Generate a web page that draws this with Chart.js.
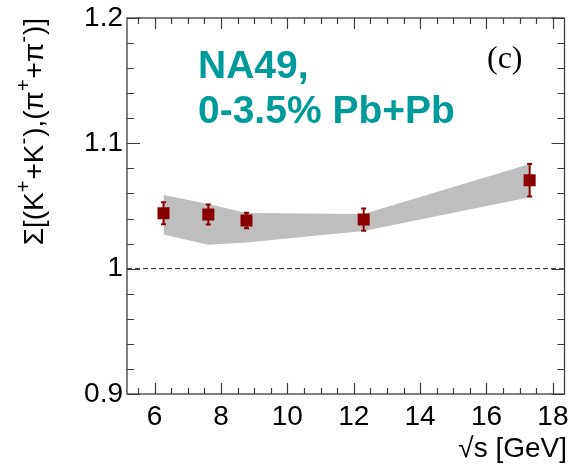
<!DOCTYPE html>
<html>
<head>
<meta charset="utf-8">
<script src="https://cdn.jsdelivr.net/npm/chart.js@4/dist/chart.umd.min.js"></script>
<style>
  html, body { margin: 0; padding: 0; background: #ffffff; }
  #wrap { width: 573px; height: 471px; }
</style>
</head>
<body>
<div id="wrap"><canvas id="c" width="573" height="471"></canvas></div>
<script>
// Collision energies (GeV) of the NA49 energy scan
const energies = [6.27, 7.62, 8.77, 12.3, 17.3];
// Strongly intensive measure Sigma for (K+ + K-) vs (pi+ + pi-)
const sigmaValues = [1.0442, 1.0432, 1.0384, 1.0392, 1.0705];
const sigmaErrors = [0.0088, 0.0080, 0.0062, 0.0089, 0.0130];
// Systematic uncertainty band
const bandUpper = [1.0587, 1.0515, 1.0445, 1.0437, 1.0835];
const bandLower = [1.0272, 1.0190, 1.0208, 1.0301, 1.0570];
// Axis ticks
const xMajorTicks = [6, 8, 10, 12, 14, 16, 18];
const yMajorTicks = [0.9, 1.0, 1.1, 1.2];
const xMinorStep = 0.5;
const yMinorStep = 0.02;

const markerColor = '#8a0000';
const frameColor = '#3c3c3c';
const teal = '#009a9a';

const pts = (ys) => energies.map((x, i) => ({ x: x, y: ys[i] }));

// frame, inward ticks, reference line, error bars and text
const decor = {
  id: 'decor',
  beforeDatasetsDraw(chart) {
    const { ctx, chartArea: a, scales: { y } } = chart;
    const yy = y.getPixelForValue(1.0);
    ctx.save();
    ctx.strokeStyle = '#222';
    ctx.lineWidth = 1;
    ctx.setLineDash([5, 3]);
    ctx.beginPath();
    ctx.moveTo(a.left, yy);
    ctx.lineTo(a.right, yy);
    ctx.stroke();
    ctx.restore();
  },
  beforeDatasetDraw(chart, args) {
    if (args.index !== 2) return;
    const { ctx, scales: { x, y } } = chart;
    ctx.save();
    ctx.strokeStyle = markerColor;
    ctx.lineWidth = 2;
    energies.forEach((e, i) => {
      const px = x.getPixelForValue(e);
      const top = y.getPixelForValue(sigmaValues[i] + sigmaErrors[i]);
      const bot = y.getPixelForValue(sigmaValues[i] - sigmaErrors[i]);
      ctx.beginPath();
      ctx.moveTo(px, top); ctx.lineTo(px, bot);
      ctx.moveTo(px - 2.5, top); ctx.lineTo(px + 2.5, top);
      ctx.moveTo(px - 2.5, bot); ctx.lineTo(px + 2.5, bot);
      ctx.stroke();
    });
    ctx.restore();
  },
  afterDraw(chart) {
    const { ctx, chartArea: a, scales: { x, y } } = chart;
    ctx.save();
    ctx.strokeStyle = frameColor;
    ctx.lineWidth = 1.3;
    ctx.strokeRect(a.left, a.top, a.right - a.left, a.bottom - a.top);
    ctx.lineWidth = 1.2;
    ctx.beginPath();
    // x ticks, bottom and top
    for (let v = Math.ceil(x.min / xMinorStep) * xMinorStep; v <= x.max + 1e-9; v += xMinorStep) {
      const major = xMajorTicks.some(t => Math.abs(t - v) < 1e-6);
      const len = major ? 11 : 6;
      const px = Math.round(x.getPixelForValue(v)) + 0.5;
      ctx.moveTo(px, a.bottom); ctx.lineTo(px, a.bottom - len);
      ctx.moveTo(px, a.top); ctx.lineTo(px, a.top + len);
    }
    // y ticks, left and right
    for (let k = Math.round(y.min / yMinorStep); k * yMinorStep <= y.max + 1e-9; k++) {
      const v = k * yMinorStep;
      const major = yMajorTicks.some(t => Math.abs(t - v) < 1e-6);
      const len = major ? 13 : 7;
      const py = Math.round(y.getPixelForValue(v)) + 0.5;
      ctx.moveTo(a.left, py); ctx.lineTo(a.left + len, py);
      ctx.moveTo(a.right, py); ctx.lineTo(a.right - len, py);
    }
    ctx.stroke();

    // headline text
    ctx.fillStyle = teal;
    ctx.font = 'bold 39px "Liberation Sans", Arial, sans-serif';
    ctx.textBaseline = 'alphabetic';
    ctx.textAlign = 'left';
    ctx.fillText('NA49,', 198, 78);
    ctx.fillText('0-3.5% Pb+Pb', 198, 123);

    ctx.fillStyle = '#000';
    ctx.font = '32px "Liberation Serif", "Times New Roman", serif';
    ctx.fillText('(c)', 487, 68);

    // x-axis title
    ctx.font = '28px "Liberation Sans", Arial, sans-serif';
    ctx.textAlign = 'right';
    ctx.fillText('\u221As [GeV]', 567, 457);

    // y-axis title with superscripts, rotated
    const segs = [
      { t: '\u03A3[(K' }, { t: '+', s: 1 }, { t: '+K' }, { t: '-', s: 1 },
      { t: '),(\u03C0' }, { t: '+', s: 1 }, { t: '+\u03C0' }, { t: '-', s: 1 }, { t: ')]' }
    ];
    const mainFont = '28px "Liberation Sans", Arial, sans-serif';
    const supFont = '20px "Liberation Sans", Arial, sans-serif';
    let total = 0;
    segs.forEach(s => { ctx.font = s.s ? supFont : mainFont; s.w = ctx.measureText(s.t).width + (s.s ? 1 : 0); total += s.w; });
    ctx.translate(43, 18 + total);
    ctx.rotate(-Math.PI / 2);
    ctx.textAlign = 'left';
    let cx = 0;
    segs.forEach(s => {
      ctx.font = s.s ? supFont : mainFont;
      ctx.fillText(s.t, cx, s.s ? -13 : 0);
      cx += s.w;
    });
    ctx.restore();
  }
};

new Chart(document.getElementById('c'), {
  type: 'scatter',
  data: {
    datasets: [
      {
        data: pts(bandLower), showLine: true, borderWidth: 0, pointRadius: 0, order: 3,
        borderColor: 'rgba(0,0,0,0)', fill: false, tension: 0
      },
      {
        data: pts(bandUpper), showLine: true, borderWidth: 0, pointRadius: 0, order: 2,
        borderColor: 'rgba(0,0,0,0)', backgroundColor: '#bebebe', fill: '-1', tension: 0
      },
      {
        data: pts(sigmaValues), pointStyle: 'rect', pointRadius: 8.5, order: 1,
        backgroundColor: markerColor, borderColor: markerColor, borderWidth: 0
      }
    ]
  },
  options: {
    responsive: false,
    animation: false,
    devicePixelRatio: 1,
    layout: { padding: { top: 18, right: 7, bottom: 0, left: 0 } },
    plugins: { legend: { display: false }, tooltip: { enabled: false } },
    scales: {
      x: {
        type: 'linear', min: 5.17, max: 18.35,
        grid: { display: false, drawTicks: false },
        border: { display: false },
        afterBuildTicks: s => { s.ticks = xMajorTicks.map(v => ({ value: v })); },
        afterFit: s => { s.height = 77; s.paddingLeft = 0; s.paddingRight = 0; },
        ticks: {
          color: '#000', padding: 6, maxRotation: 0, autoSkip: false,
          font: { family: '"Liberation Sans", Arial, sans-serif', size: 28 },
          callback: v => String(v)
        }
      },
      y: {
        type: 'linear', min: 0.9, max: 1.2,
        grid: { display: false, drawTicks: false },
        border: { display: false },
        afterBuildTicks: s => { s.ticks = yMajorTicks.map(v => ({ value: v })); },
        afterFit: s => { s.width = 127; s.paddingTop = 0; s.paddingBottom = 0; },
        ticks: {
          color: '#000', padding: 4, autoSkip: false,
          font: { family: '"Liberation Sans", Arial, sans-serif', size: 28 },
          callback: v => String(parseFloat(Number(v).toFixed(2)))
        }
      }
    }
  },
  plugins: [decor]
});
</script>
</body>
</html>
